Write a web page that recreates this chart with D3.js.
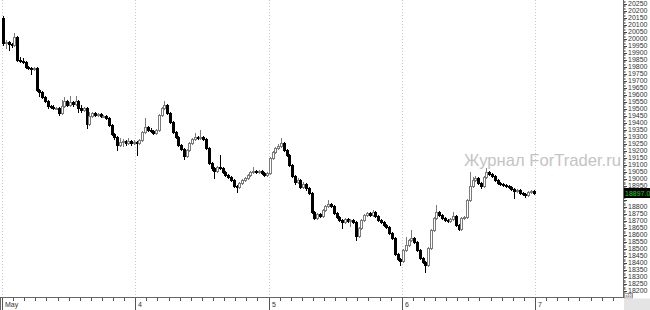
<!DOCTYPE html>
<html>
<head>
<meta charset="utf-8">
<script src="https://cdn.jsdelivr.net/npm/d3@7"></script>
<style>
  html, body { margin: 0; padding: 0; background: #fff; }
  svg { display: block; }
  .lbl { font-family: "Liberation Sans", Arial, sans-serif; font-size: 7px; fill: #333; }
</style>
</head>
<body>
<svg id="chart" width="650" height="310"></svg>
<script>
// 30-minute candles, May 3 .. May 6 (48 per day), open = previous close
const firstOpen = 20147;
const closes = [
  19968,19975,19961,19954,20011,19847,19840,19833,19797,19790,
  19783,19790,19633,19619,19583,19555,19519,19512,19505,19505,
  19469,19519,19555,19526,19547,19533,19555,19505,19490,19505,
  19390,19448,19469,19455,19462,19448,19448,19433,19383,19319,
  19298,19241,19262,19269,19255,19269,19255,19262,
  19255,19276,19333,19369,19348,19341,19326,19348,19455,19505,
  19526,19469,19405,19333,19298,19241,19212,19162,19205,19255,
  19284,19298,19291,19298,19284,19219,19112,19077,19055,19084,
  19077,19048,19027,19012,18991,18948,18941,18970,18991,19005,
  19027,19048,19055,19048,19055,19041,19027,19041,
  19148,19191,19219,19234,19255,19205,19169,19098,19020,18977,
  18991,18941,18963,18934,18898,18763,18720,18749,18734,18777,
  18806,18820,18806,18756,18727,18706,18691,18713,18699,18706,
  18691,18592,18649,18706,18741,18756,18741,18763,18734,18706,
  18691,18670,18656,18613,18577,18463,18428,18413,
  18492,18527,18563,18577,18549,18492,18435,18406,18385,18506,
  18634,18720,18763,18741,18720,18706,18699,18713,18734,18670,
  18642,18720,18727,18848,18948,18991,19005,18970,18948,19012,
  19048,19034,19020,18991,18970,18963,18955,18948,18941,18927,
  18913,18920,18898,18891,18884,18905,18913,18897
];
const highs = [
  20161,19990,19983,19968,20040,20018,19868,19861,19840,19804,
  19797,19800,19797,19640,19626,19590,19562,19526,19526,19515,
  19512,19562,19583,19562,19590,19555,19590,19562,19526,19512,
  19512,19476,19476,19476,19469,19469,19455,19455,19440,19390,
  19326,19305,19291,19284,19276,19291,19276,19276,
  19269,19284,19341,19433,19376,19362,19348,19355,19462,19512,
  19555,19533,19476,19412,19341,19305,19248,19219,19212,19262,
  19291,19326,19305,19348,19305,19291,19226,19120,19084,19091,
  19169,19084,19055,19034,19020,18998,18955,18977,18998,19012,
  19034,19055,19084,19062,19062,19062,19048,19048,
  19155,19198,19226,19248,19291,19262,19212,19176,19105,19027,
  19005,18998,18977,18970,18941,18905,18770,18756,18756,18784,
  18813,18848,18827,18813,18763,18734,18713,18720,18720,18713,
  18713,18699,18656,18713,18749,18763,18763,18777,18770,18741,
  18713,18699,18677,18663,18620,18584,18470,18435,
  18499,18584,18570,18634,18584,18556,18499,18442,18413,18513,
  18642,18727,18813,18770,18749,18727,18713,18720,18763,18741,
  18677,18727,18734,18856,19048,19012,19020,19012,18977,19020,
  19077,19055,19041,19027,18998,18977,18970,18963,18955,18948,
  18934,18927,18927,18905,18898,18913,18920,18920
];
const lows = [
  19954,19933,19918,19940,19947,19840,19830,19826,19790,19780,
  19747,19776,19626,19590,19576,19547,19505,19505,19498,19495,
  19455,19462,19512,19519,19519,19519,19526,19476,19476,19483,
  19362,19383,19440,19448,19448,19440,19440,19426,19376,19312,
  19284,19205,19234,19234,19241,19248,19241,19248,
  19169,19248,19269,19326,19341,19333,19319,19319,19341,19448,
  19498,19462,19398,19326,19291,19234,19205,19141,19155,19198,
  19248,19276,19284,19284,19276,19212,19105,19062,19005,19048,
  19069,19041,19020,19005,18984,18941,18905,18934,18963,18984,
  18998,19020,19041,19041,19041,19034,19020,19020,
  19034,19141,19184,19212,19226,19198,19162,19091,19012,18963,
  18970,18934,18934,18920,18891,18756,18713,18713,18727,18727,
  18770,18799,18799,18749,18720,18699,18649,18684,18691,18663,
  18684,18563,18584,18642,18699,18734,18734,18734,18727,18699,
  18684,18663,18649,18606,18570,18456,18420,18385,
  18406,18485,18520,18556,18542,18485,18428,18399,18335,18378,
  18499,18627,18713,18734,18713,18699,18691,18691,18706,18663,
  18634,18634,18713,18720,18841,18941,18984,18963,18934,18941,
  19005,19027,19012,18984,18963,18955,18948,18941,18934,18920,
  18863,18905,18891,18884,18870,18877,18898,18891
];
const dayLabels = ["May", "4", "5", "6", "7"];
const barsPerDay = 48;
const lastLabel = "18897.0";
const watermark = "Журнал ForTrader.ru";

const W = 650, H = 310;
const plotR = 623, plotB = 297;
const svg = d3.select("#chart");

const candles = closes.map((c, i) => ({
  i: i,
  o: i === 0 ? firstOpen : closes[i - 1],
  h: highs[i], l: lows[i], c: c
}));

const x = d3.scaleLinear().domain([0, 192]).range([2, 535]);
const y = d3.scaleLinear().domain([18156, 20275]).range([plotB, 0]);

// day grid (dotted)
svg.append("g").selectAll("line")
  .data(dayLabels)
  .join("line")
  .attr("x1", (d, k) => Math.round(x(k * barsPerDay)) + 0.5)
  .attr("x2", (d, k) => Math.round(x(k * barsPerDay)) + 0.5)
  .attr("y1", 0).attr("y2", plotB)
  .attr("stroke", "#c8c8c8")
  .attr("stroke-dasharray", "1,2");

// watermark
svg.append("text")
  .attr("x", 464).attr("y", 166)
  .attr("font-family", "Liberation Sans, Arial, sans-serif")
  .attr("font-size", 17)
  .attr("textLength", 157)
  .attr("lengthAdjust", "spacingAndGlyphs")
  .attr("fill", "#c4c4c4")
  .text(watermark);

// candles
const cx = d => Math.round(x(d.i + 0.5));
const gc = svg.append("g");
gc.selectAll("line")
  .data(candles)
  .join("line")
  .attr("x1", d => cx(d) + 0.5).attr("x2", d => cx(d) + 0.5)
  .attr("y1", d => Math.round(y(d.h))).attr("y2", d => Math.round(y(d.l)) + 1)
  .attr("stroke", d => d.c < d.o ? "#000" : "#7a7a7a");

gc.selectAll("rect")
  .data(candles)
  .join("rect")
  .attr("x", d => cx(d) - 0.5)
  .attr("width", 2)
  .attr("y", d => Math.round(y(Math.max(d.o, d.c))) + 0.5)
  .attr("height", d => Math.max(1, Math.round(y(Math.min(d.o, d.c))) - Math.round(y(Math.max(d.o, d.c)))))
  .attr("fill", d => d.c < d.o ? "#000" : "#fff")
  .attr("stroke", d => d.c < d.o ? "#000" : "#7a7a7a")
  .attr("stroke-width", 1);

// right axis
const last = closes[closes.length - 1];
const ga = svg.append("g");
ga.append("rect").attr("x", plotR).attr("y", 0).attr("width", W - plotR).attr("height", plotB).attr("fill", "#fff");
ga.append("line").attr("x1", plotR + 0.5).attr("x2", plotR + 0.5).attr("y1", 0).attr("y2", plotB + 1).attr("stroke", "#666");
ga.selectAll(".minor")
  .data(y.ticks(200))
  .join("line")
  .attr("class", "minor")
  .attr("x1", plotR + 1).attr("x2", plotR + 2.5)
  .attr("y1", d => Math.round(y(d)) + 0.5).attr("y2", d => Math.round(y(d)) + 0.5)
  .attr("stroke", "#888");
const majors = y.ticks(40).filter(v => v >= 18200 && v <= 20250);
ga.selectAll(".major")
  .data(majors)
  .join("line")
  .attr("class", "major")
  .attr("x1", plotR + 1).attr("x2", plotR + 4)
  .attr("y1", d => Math.round(y(d)) + 0.5).attr("y2", d => Math.round(y(d)) + 0.5)
  .attr("stroke", "#444");
// labels hidden under the last-price box are not drawn
ga.selectAll(".ylbl")
  .data(majors.filter(v => Math.abs(y(v) - y(last)) > 7))
  .join("text")
  .attr("class", "lbl ylbl")
  .attr("x", plotR + 5)
  .attr("y", d => y(d) + 2.2)
  .text(d => d);

// last price marker
ga.append("rect").attr("x", plotR + 1).attr("y", Math.round(y(last)) - 5)
  .attr("width", W - plotR).attr("height", 10).attr("fill", "#000");
ga.append("text").attr("class", "lbl").attr("x", plotR + 2).attr("y", y(last) + 2.5)
  .style("fill", "#00e000").text(lastLabel);

// x10 box
ga.append("rect").attr("x", plotR + 1.5).attr("y", plotB - 3.5).attr("width", 8).attr("height", 4.5)
  .attr("fill", "#fff").attr("stroke", "#999");
ga.append("text").attr("class", "lbl").attr("x", plotR + 2.4).attr("y", plotB + 0.4)
  .style("font-size", "3.8px").text("x10");

// bottom axis
const gb = svg.append("g");
gb.append("line").attr("x1", 0).attr("x2", plotR + 1).attr("y1", plotB + 0.5).attr("y2", plotB + 0.5).attr("stroke", "#666");
gb.append("line").attr("x1", 0.5).attr("x2", 0.5).attr("y1", plotB).attr("y2", H).attr("stroke", "#666");
gb.selectAll(".xminor")
  .data(d3.range(0, 224, 4))
  .join("line")
  .attr("class", "xminor")
  .attr("x1", d => Math.round(x(d)) + 0.5).attr("x2", d => Math.round(x(d)) + 0.5)
  .attr("y1", plotB + 1).attr("y2", d => d % barsPerDay === 0 ? H : plotB + 4)
  .attr("stroke", "#555");
gb.selectAll(".xlbl")
  .data(dayLabels)
  .join("text")
  .attr("class", "lbl xlbl")
  .attr("x", (d, k) => Math.round(x(k * barsPerDay)) + 3)
  .attr("y", 307)
  .text(d => d);
gb.append("rect").attr("x", plotR + 1).attr("y", plotB + 1.5).attr("width", W - plotR).attr("height", H - plotB)
  .attr("fill", "#e4e4e4");
</script>
</body>
</html>
